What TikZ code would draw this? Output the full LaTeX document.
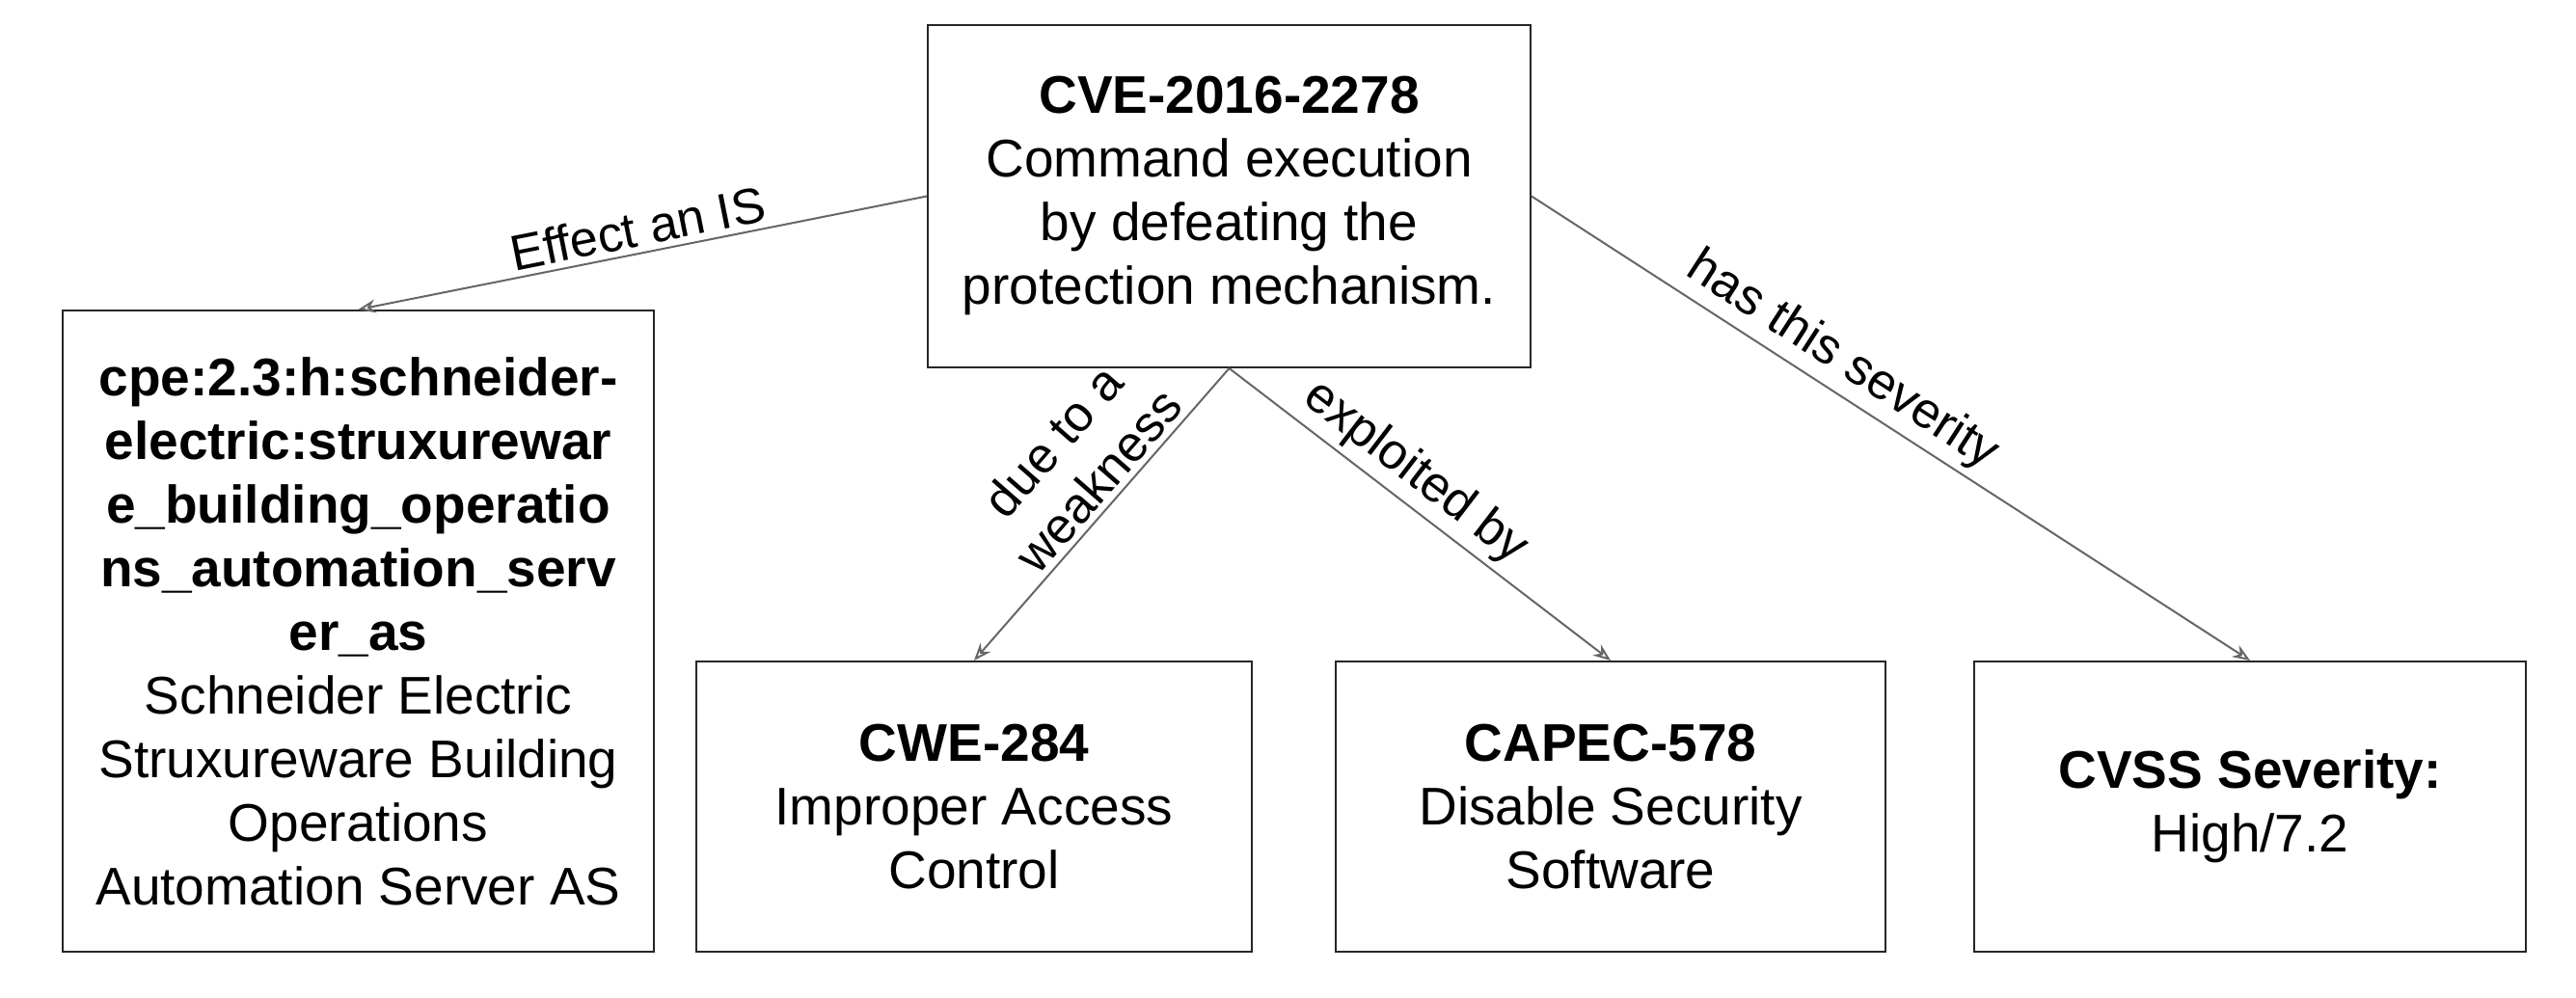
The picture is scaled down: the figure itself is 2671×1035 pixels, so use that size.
\documentclass[tikz,border=0pt]{standalone}
\usepackage{fontspec}
\setmainfont{Liberation Sans}
\usetikzlibrary{arrows.meta}
\begin{document}
\begin{tikzpicture}[x=1pt,y=1pt,
  box/.style={draw=black!85,line width=2pt,align=center,inner sep=0pt,
    font=\fontsize{55}{66}\selectfont},
  conn/.style={draw=black!60,line width=2pt,-{Stealth[length=18pt,width=14pt,open]}},
  lab/.style={font=\fontsize{52}{62}\selectfont,sloped,above,align=center,inner sep=6pt}]
\useasboundingbox (0,0) rectangle (2671,1035);
\node[box,minimum width=625,minimum height=355] (top) at (1274.5,831.5)
  {\textbf{CVE-2016-2278}\\Command execution\\by defeating the\\protection mechanism.};
\node[box,minimum width=613,minimum height=665] (left) at (371.5,380.5)
  {\textbf{cpe:2.3:h:schneider-}\\\textbf{electric:struxurewar}\\\textbf{e\_building\_operatio}\\\textbf{ns\_automation\_serv}\\\textbf{er\_as}\\Schneider Electric\\Struxureware Building\\Operations\\Automation Server AS};
\node[box,minimum width=576,minimum height=301] (cwe) at (1010,198.5)
  {\textbf{CWE-284}\\Improper Access\\Control};
\node[box,minimum width=570,minimum height=301] (capec) at (1670,198.5)
  {\textbf{CAPEC-578}\\Disable Security\\Software};
\node[box,minimum width=572,minimum height=301] (cvss) at (2333,198.5)
  {\textbf{CVSS Severity:}\\High/7.2};
\draw[conn] (top.west) -- node[lab,pos=0.5] {Effect an IS} (left.north);
\draw[conn] (top.south) -- node[lab,pos=0.44] {due to a\\weakness} (cwe.north);
\draw[conn] (top.south) -- node[lab,pos=0.44] {exploited by} (capec.north);
\draw[conn] (top.east) -- node[lab,pos=0.41] {has this severity} (cvss.north);
\end{tikzpicture}
\end{document}
